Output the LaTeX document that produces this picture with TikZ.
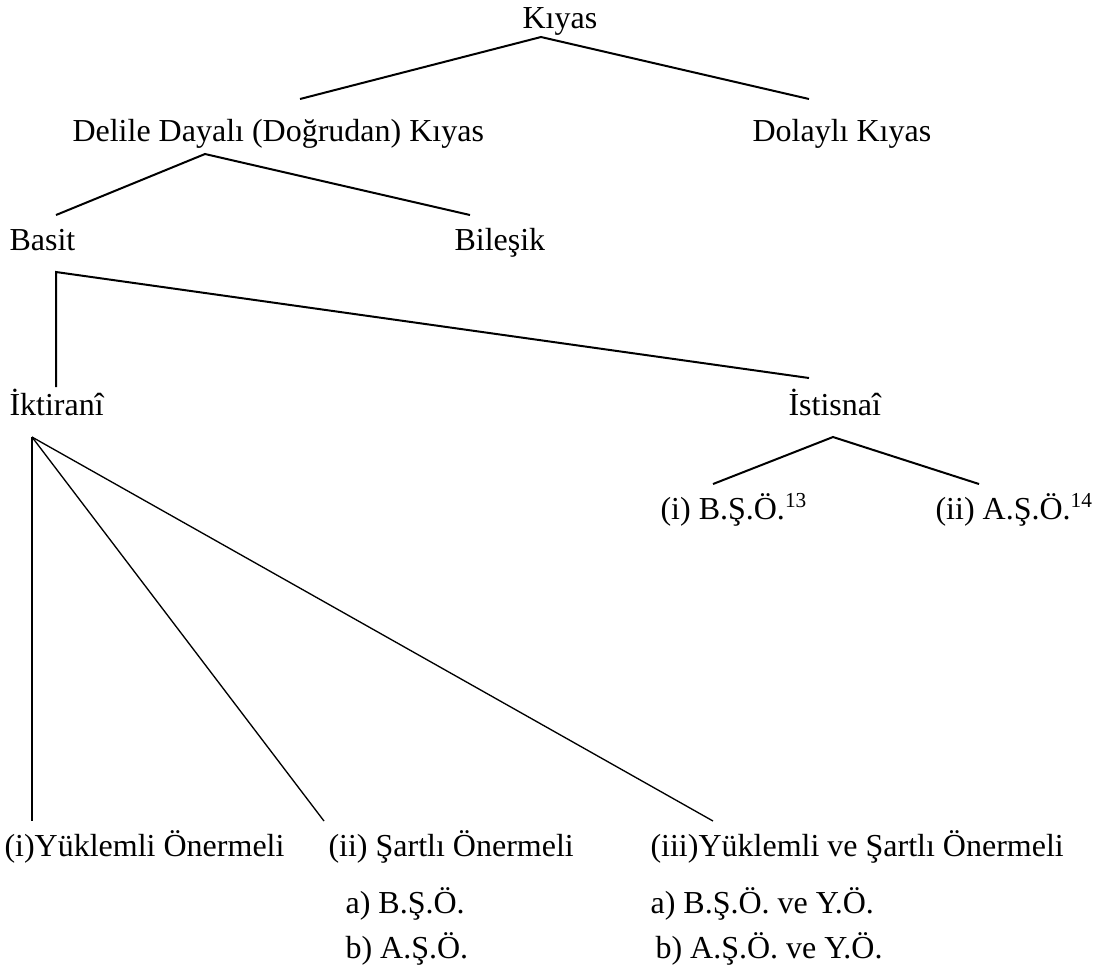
\documentclass[tikz,border=0pt]{standalone}
\usepackage{fontspec}
\setmainfont{Liberation Serif}
\begin{document}
\begin{tikzpicture}[x=0.375pt,y=-0.375pt,
  lbl/.style={anchor=base west,inner sep=0pt,font=\fontsize{12}{14}\selectfont},
  thick line/.style={line width=0.75pt},
  thin line/.style={line width=0.5pt}]
\useasboundingbox (0,0) rectangle (1093,977);
% labels
\node[lbl] (kiyas) at (522,28) {Kıyas};
\node[lbl] (delile) at (72,141) {Delile Dayalı (Doğrudan) Kıyas};
\node[lbl] (dolayli) at (752,141) {Dolaylı Kıyas};
\node[lbl] (basit) at (9,250) {Basit};
\node[lbl] (bilesik) at (454,250) {Bileşik};
\node[lbl] (iktirani) at (9,415) {İktiranî};
\node[lbl] (istisnai) at (788,415) {İstisnaî};
\node[lbl] (bso) at (660,519) {(i) B.Ş.Ö.\textsuperscript{13}};
\node[lbl] (aso) at (935,519) {(ii) A.Ş.Ö.\textsuperscript{14}};
\node[lbl] (yuk) at (4,856) {(i)Yüklemli Önermeli};
\node[lbl] (sartli) at (328,856) {(ii) Şartlı Önermeli};
\node[lbl] (yvs) at (650,856) {(iii)Yüklemli ve Şartlı Önermeli};
\node[lbl] (a1) at (345,913) {a) B.Ş.Ö.};
\node[lbl] (b1) at (345,958) {b) A.Ş.Ö.};
\node[lbl] (a2) at (650,913) {a) B.Ş.Ö. ve Y.Ö.};
\node[lbl] (b2) at (655,958) {b) A.Ş.Ö. ve Y.Ö.};
% connector end points
\coordinate (k0) at (541,37);
\coordinate (k1) at (300,99);
\coordinate (k2) at (809,99);
\coordinate (d0) at (205,154);
\coordinate (d1) at (56,215);
\coordinate (d2) at (470,215);
\coordinate (b0) at (56,272);
\coordinate (b1e) at (56,387);
\coordinate (b2e) at (809,378);
\coordinate (s0) at (833,437);
\coordinate (s1) at (713,484);
\coordinate (s2) at (979,484);
\coordinate (i0) at (32,437);
\coordinate (i1) at (32,821);
\coordinate (i2) at (324,821);
\coordinate (i3) at (713,821);
% connectors
\draw[thick line] (k1) -- (k0) -- (k2);
\draw[thick line] (d1) -- (d0) -- (d2);
\draw[thick line] (b1e) -- (b0) -- (b2e);
\draw[thick line] (s1) -- (s0) -- (s2);
\draw[thin line] (i0) -- (i1);
\draw[thin line] (i0) -- (i2);
\draw[thin line] (i0) -- (i3);
\end{tikzpicture}
\end{document}
